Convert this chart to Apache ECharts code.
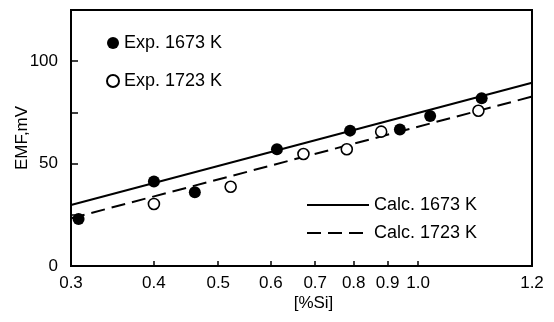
<!DOCTYPE html>
<html>
<head>
<meta charset="utf-8">
<script src="https://cdn.jsdelivr.net/npm/echarts@6/dist/echarts.min.js"></script>
<style>
  html, body { margin: 0; padding: 0; background: #fff; }
  #chart { width: 554px; height: 322px; }
</style>
</head>
<body>
<div id="chart"></div>
<script>
// x axis is logarithmic; the right edge is labelled "1.2" in the original figure
const xMin = 0.3;
const xMax = 1.485;
const xTickValues = [0.3, 0.4, 0.5, 0.6, 0.7, 0.8, 0.9, 1.0, xMax];
const xTickLabels = ["0.3", "0.4", "0.5", "0.6", "0.7", "0.8", "0.9", "1.0", "1.2"];
const yLabelValues = [0, 50, 100];

const exp1673 = [
  [0.308, 23.0], [0.40, 41.3], [0.461, 36.0], [0.613, 57.0],
  [0.790, 66.1], [0.939, 66.7], [1.043, 73.2], [1.247, 81.9],
];
const exp1723 = [
  [0.40, 30.3], [0.522, 38.7], [0.672, 54.7], [0.781, 57.0],
  [0.880, 65.6], [1.233, 75.8],
];
const calc1673 = [[0.3, 29.8], [xMax, 89.5]];
const calc1723 = [[0.3, 23.3], [xMax, 82.7]];

const font = "'Liberation Sans', Arial, sans-serif";
const black = "#000";

const chart = echarts.init(document.getElementById("chart"), null, { renderer: "canvas" });

chart.setOption({
  animation: false,
  backgroundColor: "#fff",
  textStyle: { fontFamily: font, color: black },
  grid: {
    left: 71, right: 22, top: 10, bottom: 56,
    outerBoundsMode: "none",
    containLabel: false,
    show: true, borderColor: black, borderWidth: 2,
  },
  legend: [
    {
      data: ["Exp. 1673 K", "Exp. 1723 K"],
      orient: "vertical",
      left: 106, top: 34,
      padding: 0,
      itemWidth: 12, itemHeight: 12, itemGap: 20, itemTextGap: 15,
      selectedMode: false,
      textStyle: { fontSize: 18, fontFamily: font, color: black },
    },
    {
      data: ["Calc. 1673 K", "Calc. 1723 K"],
      orient: "vertical",
      left: 306, top: 196,
      padding: 0,
      itemWidth: 62, itemHeight: 14, itemGap: 10, itemTextGap: 15,
      selectedMode: false,
      itemStyle: { opacity: 0 },
      textStyle: { fontSize: 18, fontFamily: font, color: black },
    },
  ],
  xAxis: [
    {
      // data axis
      type: "log",
      logBase: 10,
      min: xMin,
      max: xMax,
      position: "top",
      axisLine: { show: true, onZero: false, lineStyle: { color: black, width: 2 } },
      axisTick: { show: false },
      axisLabel: { show: false },
      splitLine: { show: false },
    },
    {
      // tick / label axis in ln space, aligned to the log axis
      type: "value",
      min: Math.log(xMin),
      max: Math.log(xMax),
      position: "bottom",
      name: "[%Si]",
      nameLocation: "middle",
      nameGap: 29,
      nameMoveOverlap: false,
      nameTextStyle: { fontSize: 17, fontFamily: font, color: black, padding: [0, 0, 0, 24] },
      axisLine: { show: true, onZero: false, lineStyle: { color: black, width: 2 } },
      axisTick: {
        show: true, inside: true, length: 5,
        lineStyle: { color: black, width: 1.5 },
        customValues: xTickValues.map((v) => Math.log(v)),
      },
      axisLabel: {
        show: true, margin: 9, fontSize: 17, fontFamily: font, color: black,
        showMinLabel: true, showMaxLabel: true,
        customValues: xTickValues.map((v) => Math.log(v)),
        formatter: (v) => {
          const i = xTickValues.findIndex((t) => Math.abs(Math.log(t) - v) < 1e-6);
          return i >= 0 ? xTickLabels[i] : "";
        },
      },
      splitLine: { show: false },
    },
  ],
  yAxis: {
    type: "value",
    min: 0,
    max: 125,
    interval: 25,
    position: "left",
    name: "EMF,mV",
    nameLocation: "middle",
    nameGap: 40,
    nameMoveOverlap: false,
    nameTextStyle: { fontSize: 17, fontFamily: font, color: black },
    axisLine: { show: true, onZero: false, lineStyle: { color: black, width: 2 } },
    axisTick: { show: true, inside: true, length: 7, lineStyle: { color: black, width: 1.5 } },
    axisLabel: {
      margin: 13, fontSize: 17, fontFamily: font, color: black,
      formatter: (v) => (yLabelValues.includes(v) ? String(v) : ""),
    },
    splitLine: { show: false },
  },
  series: [
    {
      name: "Exp. 1673 K",
      type: "scatter",
      xAxisIndex: 0,
      data: exp1673,
      symbol: "circle",
      symbolSize: 12,
      itemStyle: { color: black, opacity: 1 },
      z: 4,
    },
    {
      name: "Exp. 1723 K",
      type: "scatter",
      xAxisIndex: 0,
      data: exp1723,
      symbol: "circle",
      symbolSize: 11,
      itemStyle: { color: "#fff", borderColor: black, borderWidth: 1.6, opacity: 1 },
      z: 4,
    },
    {
      name: "Calc. 1673 K",
      type: "line",
      xAxisIndex: 0,
      data: calc1673,
      symbol: "none",
      showSymbol: false,
      lineStyle: { color: black, width: 2 },
      itemStyle: { color: black },
    },
    {
      name: "Calc. 1723 K",
      type: "line",
      xAxisIndex: 0,
      data: calc1723,
      symbol: "none",
      showSymbol: false,
      lineStyle: { color: black, width: 2, type: [14, 7] },
      itemStyle: { color: black },
    },
  ],
});
</script>
</body>
</html>
